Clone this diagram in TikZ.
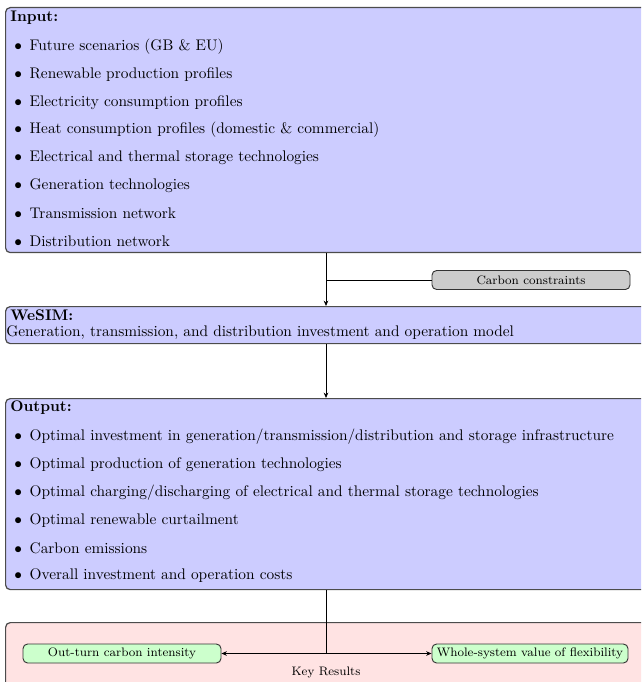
\documentclass[tikz,border=0pt]{standalone}
\usetikzlibrary{arrows.meta}
\def\u{0.651pt}
\begin{document}
\begin{tikzpicture}[x=\u,y=-\u,
  box/.style={draw=black!70, line width=0.8pt, rounded corners=3pt, inner sep=0pt, anchor=north west},
  bluebox/.style={box, fill=blue!20},
  pinkbox/.style={box, fill=red!11},
  smallbox/.style={draw=black!80, line width=0.6pt, rounded corners=3pt, inner sep=0pt, font=\footnotesize},
  graybox/.style={smallbox, fill=black!20},
  greenbox/.style={smallbox, fill=green!20},
  title/.style={anchor=west, inner sep=0pt, font=\bfseries},
  item/.style={anchor=west, inner sep=0pt},
  conn/.style={black, line width=0.5pt},
  arr/.style={conn, -{Stealth[length=3.5pt,width=3pt]}}
]
\useasboundingbox (0,0) rectangle (641,682);
\clip (0,0) rectangle (641,682);
\coordinate (col) at (326,0);

% Input
\node[bluebox, minimum width={660*\u}, minimum height={245*\u}] (inp) at (5,7) {};
\node[title] (inpt) at (10,18) {Input:};
\foreach \t [count=\i] in {Future scenarios (GB \& EU),Renewable production profiles,Electricity consumption profiles,Heat consumption profiles (domestic \& commercial),Electrical and thermal storage technologies,Generation technologies,Transmission network,Distribution network}
  \node[item] (in\i) at (14,{47+27.7*(\i-1)}) {$\bullet$\hspace{0.5em}\t};

% Carbon constraints
\node[graybox, minimum width={198*\u}, minimum height={19*\u}] (carbon) at (531,280) {Carbon constraints};

% WeSIM
\node[bluebox, minimum width={660*\u}, minimum height={37*\u}] (wesim) at (5,306) {};
\node[title] (wt) at (10,315) {WeSIM:};
\node[item] (wd) at (6,333) {Generation, transmission, and distribution investment and operation model};

% Output
\node[bluebox, minimum width={660*\u}, minimum height={191*\u}] (outp) at (5,398) {};
\node[title] (ot) at (10,408) {Output:};
\foreach \t [count=\i] in {Optimal investment in generation/transmission/distribution and storage infrastructure,Optimal production of generation technologies,Optimal charging/discharging of electrical and thermal storage technologies,Optimal renewable curtailment,Carbon emissions,Overall investment and operation costs}
  \node[item] (o\i) at (14,{437+27.8*(\i-1)}) {$\bullet$\hspace{0.5em}\t};

% Key results
\node[pinkbox, minimum width={660*\u}, minimum height={100*\u}] (kr) at (5,622) {};
\node[greenbox, minimum width={198*\u}, minimum height={19*\u}] (kr1) at (122,653.5) {Out-turn carbon intensity};
\node[greenbox, minimum width={196*\u}, minimum height={19*\u}] (kr2) at (530,653.5) {Whole-system value of flexibility};
\node[inner sep=0pt, font=\footnotesize] (krl) at (326,672) {Key Results};

% connectors
\draw[arr] (inp.south -| col) -- (wesim.north -| col);
\draw[conn] (carbon.west) -- (carbon.west -| col);
\draw[arr] (wesim.south -| col) -- (outp.north -| col);
\draw[conn] (outp.south -| col) -- (kr1.east -| col);
\draw[arr] (kr1.east -| col) -- (kr1.east);
\draw[arr] (kr1.east -| col) -- (kr2.west);
\end{tikzpicture}
\end{document}
